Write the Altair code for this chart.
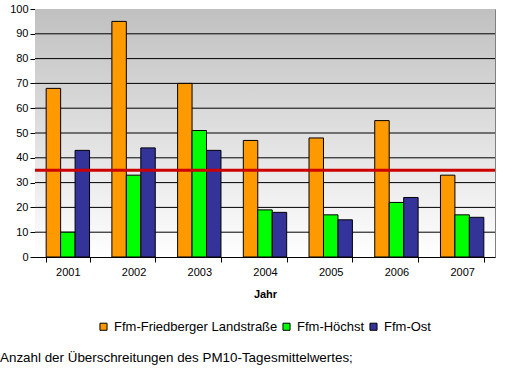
import altair as alt
import pandas as pd

years = ["2001", "2002", "2003", "2004", "2005", "2006", "2007"]
stations = ["Ffm-Friedberger Landstraße", "Ffm-Höchst", "Ffm-Ost"]
friedberger = [68, 95, 70, 47, 48, 55, 33]
hoechst = [10, 33, 51, 19, 17, 22, 17]
ost = [43, 44, 43, 18, 15, 24, 16]
threshold = 35
grid_values = [10, 20, 30, 40, 50, 60, 70, 80, 90]
y_ticks = [0, 10, 20, 30, 40, 50, 60, 70, 80, 90, 100]
colors = ["#FF9900", "#00FF00", "#333399"]
footer = "Anzahl der Überschreitungen des PM10-Tagesmittelwertes;"

rows = []
for s, vals in zip(stations, [friedberger, hoechst, ost]):
    for y, v in zip(years, vals):
        rows.append({"Jahr": y, "Station": s, "Wert": v})
df = pd.DataFrame(rows)

W, H = 460, 248
FONT = "Liberation Sans"

y_axis = alt.Axis(title=None, values=y_ticks, labelOverlap=False,
                  grid=False, labelFont=FONT, labelFontSize=11,
                  labelColor="black", domainColor="black",
                  tickColor="black", tickSize=5, labelPadding=2)
y_scale = alt.Scale(domain=[0, 100], nice=False)

bg = alt.Chart(pd.DataFrame({"a": [0]})).mark_rect(
    fill=alt.Gradient(
        gradient="linear",
        stops=[alt.GradientStop(color="#c0c0c0", offset=0),
               alt.GradientStop(color="#ffffff", offset=1)],
        x1=0, x2=0, y1=0, y2=1,
    )
).encode(x=alt.value(0), x2=alt.value(W), y=alt.value(0), y2=alt.value(H))

grid = alt.Chart(pd.DataFrame({"g": grid_values})).mark_rule(
    color="black", strokeWidth=1
).encode(y=alt.Y("g:Q", scale=y_scale, axis=y_axis))

bars = alt.Chart(df).mark_bar(stroke="black", strokeWidth=1).encode(
    x=alt.X("Jahr:N", sort=years,
            scale=alt.Scale(paddingInner=0.34, paddingOuter=0.17),
            axis=alt.Axis(title="Jahr", labelAngle=0, tickBand="extent",
                          titleFontWeight="bold", titleFontSize=11,
                          titleFont=FONT, labelFont=FONT, labelFontSize=11,
                          labelColor="black", titleColor="black",
                          domainColor="black", tickColor="black", tickSize=5,
                          labelPadding=4, titlePadding=11, grid=False)),
    xOffset=alt.XOffset("Station:N", sort=stations,
                        scale=alt.Scale(paddingInner=0, paddingOuter=0)),
    y=alt.Y("Wert:Q", scale=y_scale, axis=y_axis),
    color=alt.Color("Station:N", sort=stations,
                    scale=alt.Scale(domain=stations, range=colors),
                    legend=alt.Legend(title=None, orient="none",
                                      direction="horizontal",
                                      legendX=62, legendY=311,
                                      symbolType="square", symbolSize=50,
                                      symbolStrokeColor="black",
                                      symbolStrokeWidth=1,
                                      labelFont=FONT, labelFontSize=13,
                                      labelColor="black", labelLimit=400,
                                      columnPadding=2, symbolOffset=0,
                                      labelOffset=4)),
)

rule = alt.Chart(pd.DataFrame({"t": [threshold]})).mark_rule(
    color="#CC0000", strokeWidth=3
).encode(y=alt.Y("t:Q", scale=y_scale, axis=y_axis))

text = alt.Chart(pd.DataFrame({"t": [footer]})).mark_text(
    align="left", baseline="middle", font=FONT, fontSize=13.4, color="black"
).encode(text="t:N", x=alt.value(-35), y=alt.value(349))

chart = alt.layer(bg, grid, bars, rule, text).properties(
    width=W, height=H,
    padding={"left": 35, "top": 9, "right": 20, "bottom": 121},
    autosize=alt.AutoSizeParams(type="none"),
    background="white",
).configure_view(stroke="#808080", strokeWidth=1)

chart.save("out.html", embed_options={"renderer": "svg", "actions": False})
